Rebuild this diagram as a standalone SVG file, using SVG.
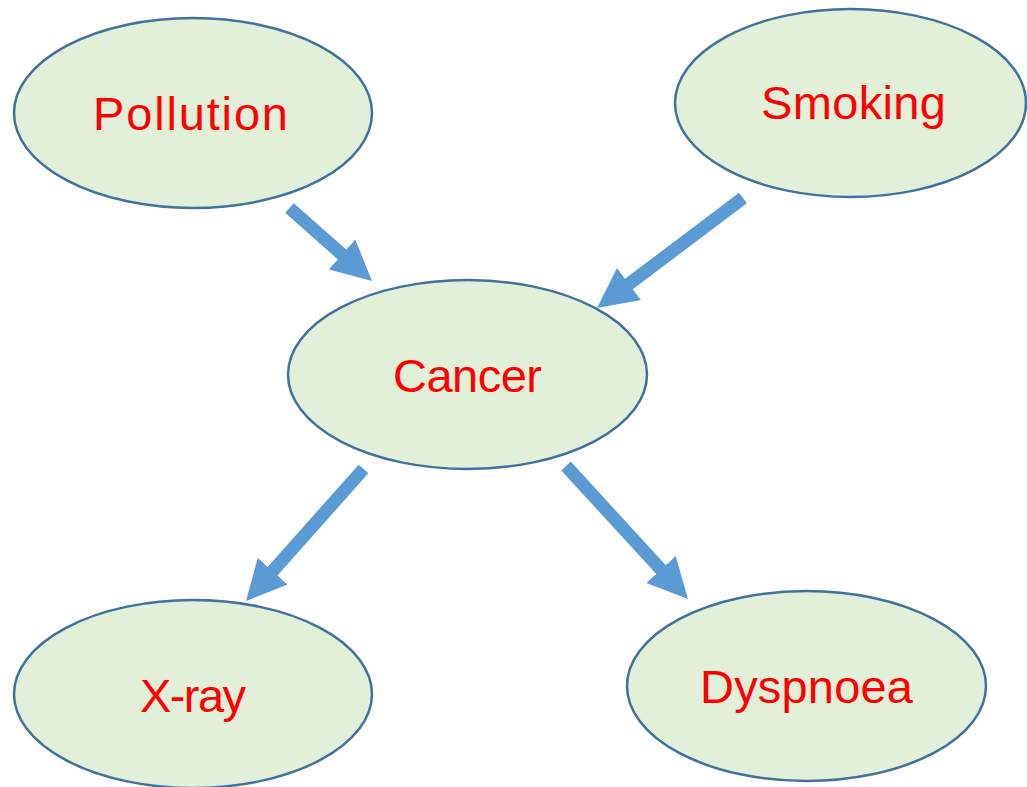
<svg xmlns="http://www.w3.org/2000/svg" width="1027" height="787" viewBox="0 0 1027 787">
<style>
.node ellipse{fill:#E2EFD9;stroke:#41719C;stroke-width:2.5}
.node text{font-family:"Liberation Sans",Arial,sans-serif;font-size:47px;fill:#FF0000;text-anchor:middle}
.edge{stroke:#5B9BD5;stroke-width:13;fill:none;marker-end:url(#ah)}
</style>
<defs>
<marker id="ah" markerUnits="userSpaceOnUse" markerWidth="40" markerHeight="40" refX="10" refY="20" orient="auto" viewBox="0 0 40 40">
<path d="M0,0 L40,20 L0,40 z" fill="#5B9BD5"/>
</marker>
</defs>
<rect width="1027" height="787" fill="#FFFFFF"/>
<g id="connectors">
<line class="edge" x1="289.5" y1="208" x2="349.5" y2="261.1"/>
<line class="edge" x1="743" y1="198" x2="621" y2="290"/>
<line class="edge" x1="363.5" y1="469" x2="266" y2="578.6"/>
<line class="edge" x1="566" y1="466" x2="667.7" y2="576.9"/>
</g>
<g id="pollution" class="node">
<ellipse cx="193" cy="113" rx="179" ry="95"/>
<text x="190.5" y="130" textLength="195" lengthAdjust="spacing">Pollution</text>
</g>
<g id="smoking" class="node">
<ellipse cx="850.5" cy="103" rx="175.5" ry="94"/>
<text x="853.5" y="119" textLength="185" lengthAdjust="spacing">Smoking</text>
</g>
<g id="cancer" class="node">
<ellipse cx="467.5" cy="374.5" rx="179.5" ry="94.5"/>
<text x="467.5" y="392" textLength="149" lengthAdjust="spacing">Cancer</text>
</g>
<g id="xray" class="node">
<ellipse cx="193" cy="694" rx="179" ry="94"/>
<text x="193" y="712" textLength="106" lengthAdjust="spacing">X-ray</text>
</g>
<g id="dyspnoea" class="node">
<ellipse cx="806.5" cy="686" rx="179.5" ry="95"/>
<text x="806.5" y="703" textLength="213" lengthAdjust="spacing">Dyspnoea</text>
</g>
</svg>
